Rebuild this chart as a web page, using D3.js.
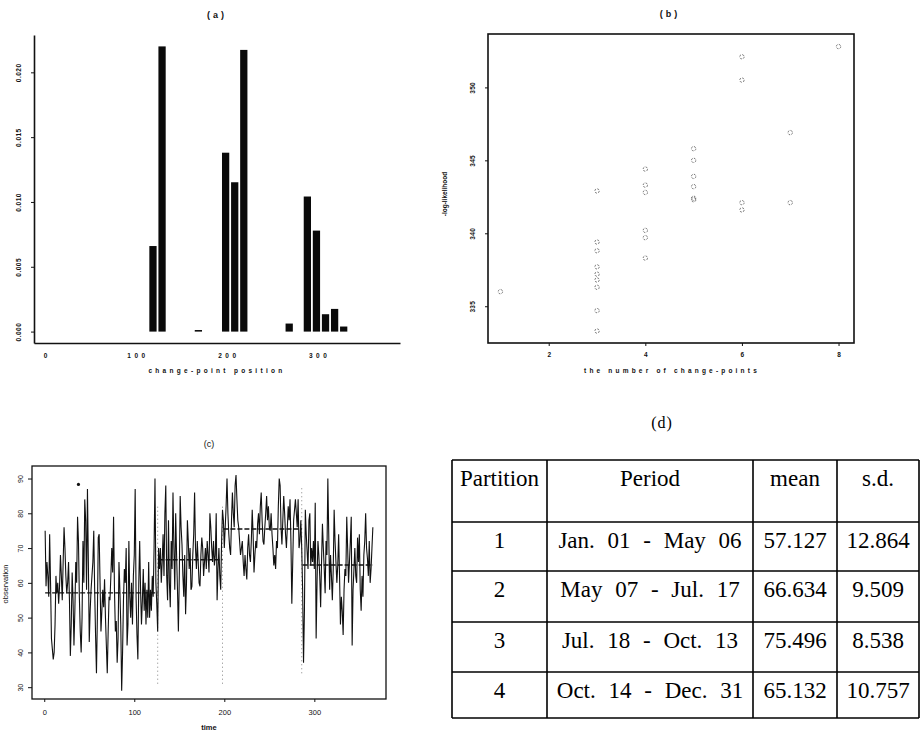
<!DOCTYPE html>
<html>
<head>
<meta charset="utf-8">
<script src="https://cdn.jsdelivr.net/npm/d3@7"></script>
<style>
  body { margin: 0; background: #fff; }
  svg { display: block; }
  .lab { font-family: "Liberation Sans", Arial, sans-serif; fill: #111; }
  .tbl { font-family: "Liberation Serif", "Times New Roman", serif; fill: #000; }
</style>
</head>
<body>
<div id="chart"></div>
<script>
// (a) posterior of change-point position
var cpPosition = [117, 127, 167, 197, 207, 217, 267, 287, 297, 307, 317, 327];
var cpDensity = [0.0066, 0.0220, 0.00012, 0.0138, 0.01152, 0.02173, 0.00062, 0.01042, 0.00779, 0.00134, 0.00175, 0.00039];
var aXTicks = [0, 100, 200, 300];
var aYTicks = [0, 0.005, 0.010, 0.015, 0.020];

// (b) -log-likelihood against the number of change-points
var nChangePoints = [1, 3, 3, 3, 3, 3, 3, 3, 3, 3, 4, 4, 4, 4, 4, 4, 5, 5, 5, 5, 5, 5, 6, 6, 6, 6, 7, 7, 8];
var negLogLik = [336.0, 342.9, 339.4, 338.8, 337.7, 337.2, 336.8, 336.3, 334.7, 333.3,
    344.4, 343.3, 342.8, 340.2, 339.7, 338.3,
    345.8, 345.0, 343.9, 343.2, 342.3, 342.4,
    352.1, 350.5, 342.1, 341.6, 346.9, 342.1, 352.8];
var bXTicks = [2, 4, 6, 8];
var bYTicks = [335, 340, 345, 350];

// (c) daily observations, one array per partition
var obsPart1 = [75, 59, 66, 62, 56, 74, 60, 44, 41, 38,
    40, 48, 62, 57, 60, 54, 59, 68, 62, 55,
    66, 76, 70, 62, 57, 60, 66, 55, 39, 48,
    63, 55, 42, 52, 66, 60, 79, 72, 56, 46,
    40, 50, 72, 60, 84, 78, 58, 87, 66, 43,
    52, 58, 62, 66, 75, 58, 45, 34, 50, 73,
    74, 60, 46, 52, 58, 53, 61, 50, 42, 34,
    46, 56, 55, 62, 70, 63, 79, 58, 46, 49,
    37, 44, 66, 58, 48, 29, 40, 55, 64, 60,
    70, 42, 48, 72, 56, 50, 60, 48, 62, 68,
    87, 56, 45, 38, 60, 72, 58, 48, 55, 64,
    52, 60, 48, 58, 50, 66, 50, 58, 52, 62,
    56, 70, 90, 60, 54, 46];
var obsPart2 = [70, 64, 70, 60, 66, 74, 62, 80, 88, 62,
    55, 78, 60, 53, 72, 64, 86, 70, 58, 80,
    68, 58, 46, 62, 85, 76, 71, 62, 56, 68,
    51, 60, 78, 72, 64, 70, 58, 59, 68, 74,
    86, 70, 64, 72, 66, 60, 59, 68, 73, 70,
    62, 66, 70, 64, 72, 68, 63, 80, 76, 70,
    66, 72, 65, 68, 80, 55, 64, 70, 62, 58, 72, 81];
var obsPart3 = [78, 70, 76, 82, 90, 80, 74, 70, 68, 78,
    86, 80, 76, 88, 91, 84, 78, 76, 72, 68,
    70, 72, 66, 62, 68, 64, 61, 70, 74, 68,
    66, 72, 81, 74, 63, 68, 72, 70, 77, 80,
    74, 82, 86, 78, 72, 71, 76, 80, 85, 78,
    82, 76, 75, 80, 74, 70, 65, 68, 64, 72,
    70, 82, 90, 88, 76, 71, 78, 85, 80, 74,
    70, 76, 82, 78, 84, 72, 54, 66, 78, 81,
    84, 80, 76, 84, 70, 72, 78, 70];
var obsPart4 = [58, 37, 52, 81, 74, 69, 64, 78, 80, 65,
    70, 66, 72, 64, 83, 44, 60, 72, 68, 62,
    53, 66, 77, 70, 64, 57, 72, 68, 90, 74,
    58, 68, 62, 55, 64, 81, 72, 66, 60, 65,
    74, 62, 48, 56, 52, 45, 58, 64, 62, 79,
    70, 60, 66, 72, 79, 42, 58, 64, 70, 62,
    60, 73, 66, 74, 58, 52, 62, 56, 68, 72,
    80, 70, 67, 62, 72, 60, 64, 70, 76];
var changeDay = [126, 198, 286];
var changeLineLow = [31, 31, 34];
var changeLineHigh = [82, 82, 88];
var markedPoint = [38, 88.3];
var cXTicks = [0, 100, 200, 300];
var cYTicks = [30, 40, 50, 60, 70, 80, 90];

// (d) summary table
var tableHeader = ["Partition", "Period", "mean", "s.d."];
var partitionId = ["1", "2", "3", "4"];
var periodText = ["Jan. 01 - May 06", "May 07 - Jul. 17", "Jul. 18 - Oct. 13", "Oct. 14 - Dec. 31"];
var partMean = [57.127, 66.634, 75.496, 65.132];
var partSd = ["12.864", "9.509", "8.538", "10.757"];

window.onload = function () {

    var svg = d3.select("#chart").append("svg")
        .attr("width", 921)
        .attr("height", 731);

    // rotate y tick labels so they read bottom to top, like R
    function rotateYLabels(g, offset) {
        g.selectAll(".tick text")
            .attr("x", null)
            .attr("dy", null)
            .attr("text-anchor", "middle")
            .attr("transform", "translate(" + (-offset) + ",0) rotate(-90)");
    }

    function styleAxis(g, size, weight, spacing) {
        g.selectAll("text")
            .attr("class", "lab")
            .style("font-size", size + "px")
            .style("font-weight", weight)
            .style("letter-spacing", spacing + "px")
            .attr("fill", "#111");
        g.selectAll("line").attr("stroke", "#111");
    }

    // ---------------- panel (a) ----------------
    var ax = d3.scaleLinear().domain([-14, 389]).range([34, 400]);
    var ay = d3.scaleLinear().domain([-0.00088, 0.02288]).range([343, 35]);
    var barW = ax(8) - ax(0);

    svg.append("g").selectAll("rect")
        .data(cpPosition)
        .enter().append("rect")
        .attr("x", function (d) { return ax(d) - barW / 2; })
        .attr("width", barW)
        .attr("y", function (d, i) { return ay(cpDensity[i]); })
        .attr("height", function (d, i) { return Math.max(1, ay(0) - ay(cpDensity[i])); })
        .attr("fill", "#0a0a0a");

    var aLeft = svg.append("g")
        .attr("transform", "translate(" + ax.range()[0] + ",0)")
        .call(d3.axisLeft(ay).tickValues(aYTicks).tickSize(3).tickSizeOuter(0)
            .tickFormat(d3.format(".3f")));
    aLeft.select(".domain").attr("stroke", "#111").attr("stroke-width", 1.6);
    rotateYLabels(aLeft, 13.5);
    styleAxis(aLeft, 6.5, "bold", 0.5);

    var aBottom = svg.append("g")
        .attr("transform", "translate(0," + ay.range()[0] + ")")
        .call(d3.axisBottom(ax).tickValues(aXTicks).tickSize(0).tickSizeOuter(0).tickPadding(10));
    aBottom.select(".domain").attr("stroke", "#111").attr("stroke-width", 1.6);
    styleAxis(aBottom, 6.5, "bold", 3.5);

    svg.append("text").attr("class", "lab")
        .attr("x", 217).attr("y", 18)
        .attr("text-anchor", "middle")
        .style("font-size", "9px").style("font-weight", "bold").style("letter-spacing", "3px")
        .text("(a)");
    svg.append("text").attr("class", "lab")
        .attr("x", 217).attr("y", 373)
        .attr("text-anchor", "middle")
        .style("font-size", "6.5px").style("font-weight", "bold").style("letter-spacing", "3.3px")
        .text("change-point position");

    // ---------------- panel (b) ----------------
    var bx = d3.scaleLinear().domain([0.743, 8.32]).range([488, 854]);
    var by = d3.scaleLinear().domain([332.48, 353.66]).range([343, 34]);

    svg.append("rect")
        .attr("x", 488).attr("y", 34)
        .attr("width", bx.range()[1] - bx.range()[0])
        .attr("height", by.range()[0] - by.range()[1])
        .attr("fill", "none").attr("stroke", "#111").attr("stroke-width", 1.6);

    svg.append("g").selectAll("circle")
        .data(nChangePoints)
        .enter().append("circle")
        .attr("cx", function (d) { return bx(d); })
        .attr("cy", function (d, i) { return by(negLogLik[i]); })
        .attr("r", 2.2)
        .attr("fill", "none")
        .attr("stroke", "#444")
        .attr("stroke-width", 0.7)
        .attr("stroke-dasharray", "2,1.2");

    var bLeft = svg.append("g")
        .attr("transform", "translate(" + bx.range()[0] + ",0)")
        .call(d3.axisLeft(by).tickValues(bYTicks).tickSize(3).tickSizeOuter(0));
    bLeft.select(".domain").remove();
    rotateYLabels(bLeft, 13.5);
    styleAxis(bLeft, 6.5, "bold", 0.3);

    var bBottom = svg.append("g")
        .attr("transform", "translate(0," + by.range()[0] + ")")
        .call(d3.axisBottom(bx).tickValues(bXTicks).tickSize(3).tickSizeOuter(0).tickPadding(6));
    bBottom.select(".domain").remove();
    styleAxis(bBottom, 6.5, "bold", 0);

    svg.append("text").attr("class", "lab")
        .attr("x", 670).attr("y", 17)
        .attr("text-anchor", "middle")
        .style("font-size", "9px").style("font-weight", "bold").style("letter-spacing", "3px")
        .text("(b)");
    svg.append("text").attr("class", "lab")
        .attr("x", 672).attr("y", 373)
        .attr("text-anchor", "middle")
        .style("font-size", "6.5px").style("font-weight", "bold").style("letter-spacing", "3.2px")
        .text("the number of change-points");
    svg.append("text").attr("class", "lab")
        .attr("transform", "translate(447,194) rotate(-90)")
        .attr("text-anchor", "middle")
        .style("font-size", "6.5px").style("font-weight", "bold")
        .text("-log-likelihood");

    // ---------------- panel (c) ----------------
    var cx = d3.scaleLinear().domain([-13.6, 379.6]).range([32, 386]);
    var cy = d3.scaleLinear().domain([26.6, 93.6]).range([699, 466]);

    var parts = [obsPart1, obsPart2, obsPart3, obsPart4];
    var series = [];
    var segments = [];
    parts.forEach(function (p, k) {
        var start = series.length + 1;
        p.forEach(function (v) { series.push(v); });
        segments.push({ from: start, to: series.length, mean: partMean[k] });
    });

    // dotted lines at the change-points
    svg.append("g").selectAll("line")
        .data(changeDay)
        .enter().append("line")
        .attr("x1", function (d) { return cx(d); })
        .attr("x2", function (d) { return cx(d); })
        .attr("y1", function (d, i) { return cy(changeLineLow[i]); })
        .attr("y2", function (d, i) { return cy(changeLineHigh[i]); })
        .attr("stroke", "#666")
        .attr("stroke-width", 0.8)
        .attr("stroke-dasharray", "1,3");

    var line = d3.line()
        .x(function (d, i) { return cx(i + 1); })
        .y(function (d) { return cy(d); });

    svg.append("path")
        .datum(series)
        .attr("fill", "none")
        .attr("stroke", "#111")
        .attr("stroke-width", 1.1)
        .attr("d", line);

    // partition means
    svg.append("g").selectAll("line")
        .data(segments)
        .enter().append("line")
        .attr("x1", function (d) { return cx(d.from); })
        .attr("x2", function (d) { return cx(d.to); })
        .attr("y1", function (d) { return cy(d.mean); })
        .attr("y2", function (d) { return cy(d.mean); })
        .attr("stroke", "#111")
        .attr("stroke-width", 1.4)
        .attr("stroke-dasharray", "5,2");

    svg.append("circle")
        .attr("cx", cx(markedPoint[0]))
        .attr("cy", cy(markedPoint[1]))
        .attr("r", 1.6)
        .attr("fill", "#111");

    svg.append("rect")
        .attr("x", 32).attr("y", 466)
        .attr("width", cx.range()[1] - cx.range()[0])
        .attr("height", cy.range()[0] - cy.range()[1])
        .attr("fill", "none").attr("stroke", "#111").attr("stroke-width", 1.3);

    var cLeft = svg.append("g")
        .attr("transform", "translate(" + cx.range()[0] + ",0)")
        .call(d3.axisLeft(cy).tickValues(cYTicks).tickSize(4).tickSizeOuter(0));
    cLeft.select(".domain").remove();
    rotateYLabels(cLeft, 9.5);
    styleAxis(cLeft, 7, "normal", 0);

    var cBottom = svg.append("g")
        .attr("transform", "translate(0," + cy.range()[0] + ")")
        .call(d3.axisBottom(cx).tickValues(cXTicks).tickSize(3).tickSizeOuter(0).tickPadding(8));
    cBottom.select(".domain").remove();
    styleAxis(cBottom, 7.5, "normal", 0);

    svg.append("text").attr("class", "lab")
        .attr("x", 209).attr("y", 447)
        .attr("text-anchor", "middle")
        .style("font-size", "9px")
        .text("(c)");
    svg.append("text").attr("class", "lab")
        .attr("x", 209).attr("y", 730)
        .attr("text-anchor", "middle")
        .style("font-size", "7.5px").style("font-weight", "bold")
        .text("time");
    svg.append("text").attr("class", "lab")
        .attr("transform", "translate(8,584) rotate(-90)")
        .attr("text-anchor", "middle")
        .style("font-size", "7.5px")
        .text("observation");

    // ---------------- panel (d) table ----------------
    var colEdge = [452, 547, 753, 837, 919];
    var rowEdge = [460, 522, 571, 622, 672, 718];
    var tbl = svg.append("g");

    tbl.selectAll(".hline")
        .data(rowEdge)
        .enter().append("line")
        .attr("x1", colEdge[0]).attr("x2", colEdge[colEdge.length - 1])
        .attr("y1", function (d) { return d; }).attr("y2", function (d) { return d; })
        .attr("stroke", "#000").attr("stroke-width", 1.6);

    tbl.selectAll(".vline")
        .data(colEdge)
        .enter().append("line")
        .attr("x1", function (d) { return d; }).attr("x2", function (d) { return d; })
        .attr("y1", rowEdge[0]).attr("y2", rowEdge[rowEdge.length - 1])
        .attr("stroke", "#000").attr("stroke-width", 1.6);

    var rows = [tableHeader];
    for (var i = 0; i < partitionId.length; i++) {
        rows.push([partitionId[i], periodText[i], partMean[i].toFixed(3), partSd[i]]);
    }

    rows.forEach(function (r, ri) {
        r.forEach(function (cell, ci) {
            tbl.append("text")
                .attr("class", "tbl")
                .attr("x", (colEdge[ci] + colEdge[ci + 1]) / 2)
                .attr("y", rowEdge[ri] + 26)
                .attr("text-anchor", "middle")
                .style("font-size", "23px")
                .style("word-spacing", ci == 1 && ri > 0 ? "7px" : "0px")
                .text(cell);
        });
    });

    svg.append("text").attr("class", "tbl")
        .attr("x", 662).attr("y", 428)
        .attr("text-anchor", "middle")
        .style("font-size", "16px")
        .style("letter-spacing", "1px")
        .text("(d)");
};
</script>
</body>
</html>
